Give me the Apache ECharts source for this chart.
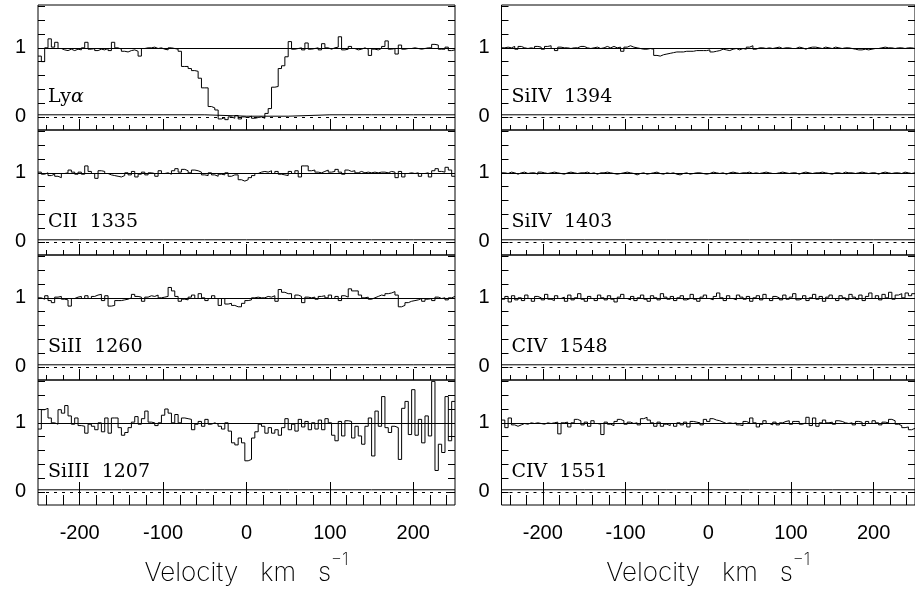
<!DOCTYPE html>
<html><head><meta charset="utf-8">
<script src="https://cdn.jsdelivr.net/npm/echarts@6/dist/echarts.min.js"></script>
<style>html,body{margin:0;padding:0;background:#fff}#c{width:915px;height:594px}</style>
</head><body><div id="c"></div>
<script>
// ---------- data ----------
const binWidth = 4;          // km/s per spectral bin
const vStart = -250;         // left edge of first bin
const xTickLabels = [-200, -100, 0, 100, 200];
const yTickLabels = [0, 1];
const yTickValues = [0, 0.2, 0.4, 0.6, 0.8, 1, 1.2, 1.4, 1.6];
const panelLabels = ['Ly{g|α}', 'CII  1335', 'SiII  1260', 'SiIII  1207',
                     'SiIV  1394', 'SiIV  1403', 'CIV  1548', 'CIV  1551'];
const axisTitle = '{a|Velocity   km   s}{b|−1}';

const fluxLya = [
 0.88,0.80,1.00,1.13,1.01,1.08,0.99,0.97,0.96,0.98,0.96,0.98,0.97,1.00,1.08,0.98,0.99,0.96,0.98,0.97,0.99,0.96,1.08,1.00,0.98,
 0.95,0.94,0.96,0.97,0.95,0.88,0.99,1.00,1.00,1.01,0.99,1.00,0.98,0.97,1.00,0.99,0.98,0.95,0.73,0.73,0.70,0.67,0.66,0.56,0.42,
 0.42,0.15,0.13,0.10,-0.03,-0.01,-0.04,0.00,-0.02,0.02,-0.03,0.00,-0.01,0.01,-0.02,-0.01,0.00,-0.02,0.05,0.12,0.43,0.44,0.70,0.74,0.87,
 1.09,0.98,0.99,1.00,0.97,1.07,0.98,0.99,1.00,0.97,1.06,1.00,0.98,1.00,1.01,1.16,0.97,0.98,1.02,0.99,0.97,0.98,1.00,0.98,0.89,
 0.98,0.97,0.99,1.02,1.10,0.98,0.99,0.91,1.04,0.98,0.99,0.99,1.00,0.99,0.98,0.99,1.00,1.00,1.05,1.04,0.98,0.98,1.01,0.96,0.97];
const fluxCII = [
 1.01,0.98,1.00,0.96,0.98,0.95,0.93,0.99,1.00,1.04,1.01,0.98,1.01,0.98,1.10,1.02,0.99,0.92,1.03,1.02,0.99,0.97,0.96,0.95,0.94,
 0.96,1.00,0.97,1.02,0.94,0.98,1.01,0.97,1.00,0.99,0.95,1.03,0.99,1.00,0.98,1.03,1.06,1.01,1.05,1.03,1.00,1.04,1.03,1.01,0.97,
 0.96,1.00,0.97,0.95,0.98,0.97,1.00,0.95,0.97,0.97,0.90,0.88,0.90,0.93,0.96,0.99,1.01,1.02,1.01,1.03,0.99,1.02,0.98,0.97,0.96,
 1.02,0.99,1.03,0.94,1.10,1.10,1.03,1.04,1.01,1.00,1.02,1.04,1.01,1.02,1.05,1.01,0.98,1.04,1.02,1.03,1.00,1.02,1.00,1.01,1.00,
 1.01,1.00,1.01,1.01,1.00,1.02,1.01,0.93,1.02,0.94,0.99,1.00,0.99,1.00,0.95,0.99,1.00,0.94,1.03,1.06,1.02,1.01,1.08,1.04,0.95];
const fluxSiII = [
 1.00,0.98,1.03,0.96,0.93,1.01,1.02,0.98,0.97,0.88,0.99,1.01,1.02,0.99,1.03,0.99,1.02,1.04,1.05,0.96,1.03,0.88,0.89,0.96,0.96,
 0.97,0.98,1.00,1.05,1.02,1.01,0.95,1.01,1.03,1.02,1.04,1.00,1.01,1.02,1.15,1.10,1.02,0.95,0.98,0.97,1.01,1.04,0.99,1.06,1.00,
 0.96,0.99,1.03,0.99,0.89,0.99,0.91,0.92,0.89,0.87,0.87,0.92,0.96,0.97,1.00,1.01,1.00,1.00,1.02,1.01,1.03,0.95,1.12,1.08,1.06,
 1.06,0.99,1.04,1.02,0.93,1.01,1.00,1.01,0.98,1.02,1.03,1.00,1.04,0.99,1.02,0.96,1.03,1.01,1.13,1.10,1.10,1.04,1.00,1.01,0.98,
 1.00,1.02,1.04,1.03,1.06,1.07,1.09,1.04,0.87,0.89,0.93,0.95,0.96,0.97,0.99,0.95,0.98,0.99,0.96,1.01,0.99,1.00,0.97,1.00,1.02];
const fluxSiIII = [
 0.91,1.19,1.21,1.07,1.00,0.98,1.19,1.14,1.25,1.10,0.98,1.07,0.96,0.95,0.85,0.98,0.95,0.90,1.00,0.87,1.07,0.85,1.07,1.07,0.93,
 0.82,0.86,0.93,1.01,1.09,0.98,1.06,1.17,1.01,1.00,0.96,1.00,1.11,1.20,1.14,1.00,1.12,1.00,1.07,1.06,1.05,0.90,0.98,1.02,0.95,
 1.05,0.98,1.00,0.98,0.95,0.91,1.00,0.88,0.71,0.68,0.78,0.71,0.45,0.47,0.78,0.87,0.98,0.95,0.85,0.93,0.85,0.90,0.82,0.93,1.06,
 0.90,0.98,0.88,1.05,0.94,1.02,0.90,1.00,0.91,1.04,0.90,1.06,1.00,0.82,0.74,1.02,0.81,1.03,1.02,0.78,0.95,0.81,0.69,0.95,1.07,
 0.52,1.17,0.95,1.38,0.93,0.86,0.95,0.93,0.47,1.21,1.31,0.83,1.48,0.82,1.05,0.71,1.10,0.81,1.60,0.31,0.69,0.57,1.38,0.74,1.31];
const fluxSiIV1394 = [
 1.00,1.01,1.00,1.02,0.98,1.02,1.00,0.99,1.00,0.99,1.02,1.01,0.98,1.02,1.03,0.99,0.96,1.01,1.00,1.00,0.99,1.00,1.00,1.02,1.02,
 1.00,0.99,1.00,1.01,0.99,1.00,1.02,1.00,1.02,1.00,1.01,0.95,1.01,1.03,1.01,1.00,0.99,0.98,0.98,0.99,0.98,0.89,0.88,0.90,0.91,
 0.92,0.93,0.94,0.94,0.94,0.95,0.95,0.95,0.96,0.96,0.96,0.96,0.97,0.94,0.95,0.96,0.98,0.97,0.96,0.98,0.99,0.97,0.99,0.98,1.01,
 1.03,0.98,1.00,1.00,0.99,1.00,0.99,1.00,1.01,0.99,1.00,1.00,0.99,0.99,1.01,1.00,0.98,1.00,1.01,1.01,1.00,0.99,1.01,1.00,0.99,
 1.01,1.00,0.99,1.00,1.00,0.99,0.98,0.97,0.97,0.98,0.97,0.98,0.99,0.99,1.00,1.01,1.00,1.00,0.99,1.00,1.00,0.99,1.00,1.00,0.99];
const fluxSiIV1403 = [
 1.00,0.99,1.01,1.00,0.98,1.00,1.01,0.99,1.00,1.00,0.98,1.01,1.00,0.99,1.00,1.01,1.00,0.99,0.98,1.00,1.01,1.00,0.99,1.00,1.00,
 1.01,0.99,1.00,0.98,1.00,1.00,1.01,1.00,0.99,0.98,0.99,1.00,1.01,1.00,0.99,0.97,0.99,1.00,0.98,0.99,1.00,1.01,0.99,0.98,1.00,
 0.99,1.00,0.98,0.97,0.99,1.00,0.98,0.99,1.00,1.00,0.99,0.98,0.99,1.01,1.00,0.99,1.00,0.98,1.00,1.01,1.00,0.99,1.00,1.00,1.01,
 0.99,1.00,0.99,1.00,1.01,1.00,0.99,0.99,1.00,1.01,1.00,0.99,1.00,1.00,0.98,1.00,1.01,1.00,0.99,1.00,1.00,1.01,1.00,0.99,0.98,
 1.00,1.00,0.99,1.01,1.00,1.00,0.99,1.00,1.01,1.00,0.99,1.00,1.00,0.98,1.00,1.01,1.00,0.99,1.00,1.00,0.99,1.01,1.00,0.99,1.00];
const fluxCIV1548 = [
 0.98,1.02,0.94,1.03,0.97,1.00,0.96,1.04,0.99,0.95,1.02,1.00,0.97,1.05,0.98,0.96,1.03,0.99,1.01,0.95,1.04,0.97,1.00,1.06,0.98,
 0.95,1.02,0.99,0.96,1.04,1.00,0.97,1.03,0.98,0.94,1.01,1.05,0.99,0.97,1.02,0.96,1.00,1.04,0.98,0.95,1.03,1.00,0.97,1.06,1.01,
 0.98,1.02,0.96,1.00,1.03,0.97,0.99,1.05,0.98,0.95,1.01,1.04,0.99,0.97,1.02,1.07,1.00,0.96,1.03,0.99,0.97,1.04,1.01,0.98,1.02,
 0.95,1.00,1.03,0.97,1.05,0.99,0.96,1.02,1.00,0.97,1.04,0.98,1.01,1.06,0.97,0.99,1.03,0.96,1.00,1.05,0.98,1.02,0.95,1.01,1.04,
 0.99,0.96,1.03,1.00,0.97,1.05,1.01,0.98,1.04,0.96,1.02,1.07,0.99,1.03,0.97,1.05,1.00,1.08,0.98,1.04,1.06,1.00,1.07,1.03,1.06];
const fluxCIV1551 = [
 1.04,0.93,1.07,0.97,0.95,0.97,0.99,0.98,1.00,0.99,1.00,0.99,0.98,1.00,0.99,1.00,1.01,0.84,1.00,1.01,0.94,1.00,1.05,1.03,0.97,
 1.01,0.95,1.03,0.99,0.98,0.83,1.01,0.98,0.96,1.02,1.05,1.03,0.98,1.01,0.99,1.00,0.97,1.06,1.08,1.04,1.00,0.95,1.01,0.95,0.98,
 0.96,0.99,0.95,1.00,0.97,1.01,0.94,1.02,1.01,1.00,0.97,1.05,1.02,1.06,1.04,1.03,1.01,0.99,1.00,0.99,1.00,0.97,0.96,1.02,1.00,
 1.07,1.00,0.94,0.98,1.03,0.99,0.97,1.01,0.97,1.00,1.02,1.03,0.98,1.02,1.02,0.98,1.00,1.08,0.96,1.07,0.95,1.00,1.04,1.00,1.01,
 0.98,1.03,1.02,1.00,0.99,1.00,0.97,1.02,1.01,0.96,1.02,0.99,1.03,1.00,0.97,1.01,1.00,1.05,1.03,0.98,0.96,0.93,0.94,0.90,0.92];

// error spectra, sampled every 50 km/s
const errV = [-250,-200,-150,-100,-50,0,50,100,150,200,250];
const errLya      = [0.03,0.03,0.03,0.03,0.03,0.01,0.01,0.03,0.03,0.03,0.03];
const errCII      = [0.03,0.03,0.03,0.03,0.03,0.03,0.03,0.03,0.03,0.03,0.03];
const errSiII     = [0.03,0.03,0.03,0.03,0.03,0.03,0.03,0.03,0.03,0.03,0.03];
const errSiIII    = [0.03,0.03,0.03,0.03,0.03,0.03,0.03,0.03,0.03,0.03,0.03];
const errSiIV1394 = [0.03,0.03,0.03,0.03,0.03,0.03,0.03,0.03,0.03,0.03,0.03];
const errSiIV1403 = [0.03,0.03,0.03,0.03,0.03,0.03,0.03,0.03,0.03,0.03,0.03];
const errCIV1548  = [0.03,0.03,0.03,0.03,0.03,0.03,0.03,0.03,0.03,0.03,0.03];
const errCIV1551  = [0.03,0.03,0.03,0.03,0.03,0.03,0.03,0.03,0.03,0.03,0.03];

const fluxes = [fluxLya, fluxCII, fluxSiII, fluxSiIII, fluxSiIV1394, fluxSiIV1403, fluxCIV1548, fluxCIV1551];
const errs = [errLya, errCII, errSiII, errSiIII, errSiIV1394, errSiIV1403, errCIV1548, errCIV1551];

// ---------- layout ----------
const colLeft = [38, 501.5], colWidth = 417;
const rowTop = [5, 130, 255, 380], rowHeight = 125;
const yMin = -0.19, yMax = 1.62;
const minorX = [];
for (let v = -240; v <= 240; v += 20) minorX.push(v);
const thinFont = "Inter, 'DejaVu Sans'";

const grids = [], xAxes = [], yAxes = [], series = [], graphics = [];
for (let k = 0; k < 8; k++) {
  const c = Math.floor(k / 4), r = k % 4;
  const bottom = (r === 3);
  grids.push({left: colLeft[c], top: rowTop[r], width: colWidth, height: rowHeight,
    show: true, borderColor: '#000', borderWidth: 1, backgroundColor: 'transparent'});
  // major x ticks (+ labels on bottom row)
  xAxes.push({type: 'value', gridIndex: k, min: vStart, max: -vStart, position: 'bottom',
    axisLine: {show: false, onZero: false}, splitLine: {show: false},
    axisTick: {show: true, inside: true, length: bottom ? 23 : 11, customValues: xTickLabels,
      lineStyle: {color: '#000', width: 1}},
    axisLabel: {show: bottom, customValues: xTickLabels, margin: 18, color: '#000',
      fontSize: 20, fontFamily: 'Liberation Sans'},
    name: bottom ? axisTitle : '', nameLocation: 'middle', nameGap: 46,
    nameTextStyle: {color: '#000', rich: {
      a: {fontFamily: thinFont, fontWeight: 200, fontSize: 26, lineHeight: 25, verticalAlign: 'bottom', color: '#000'},
      b: {fontFamily: thinFont, fontWeight: 200, fontSize: 17, lineHeight: 35, verticalAlign: 'top', color: '#000'}
    }}
  });
  // minor x ticks
  xAxes.push({type: 'value', gridIndex: k, min: vStart, max: -vStart, position: 'bottom',
    axisLine: {show: false, onZero: false}, splitLine: {show: false}, axisLabel: {show: false},
    axisTick: {show: true, inside: true, length: bottom ? 10 : 5, customValues: minorX,
      lineStyle: {color: '#000', width: 1}}});
  // left y axis with labels
  yAxes.push({type: 'value', gridIndex: k, min: yMin, max: yMax, position: 'left',
    axisLine: {show: false, onZero: false}, splitLine: {show: false},
    axisTick: {show: true, inside: true, length: 7, customValues: yTickValues,
      lineStyle: {color: '#000', width: 1}},
    axisLabel: {show: true, customValues: yTickLabels, margin: 12, color: '#000',
      fontSize: 20, fontFamily: 'Liberation Sans'}});
  // right y axis ticks
  yAxes.push({type: 'value', gridIndex: k, min: yMin, max: yMax, position: 'right',
    axisLine: {show: false, onZero: false}, splitLine: {show: false}, axisLabel: {show: false},
    axisTick: {show: true, inside: true, length: 7, customValues: yTickValues,
      lineStyle: {color: '#000', width: 1}}});

  // histogram spectrum (bin left edges, step drawn to the next edge)
  const fl = fluxes[k];
  const pts = fl.map((f, i) => [vStart + i * binWidth, f]);
  pts.push([vStart + fl.length * binWidth, fl[fl.length - 1]]);
  series.push({type: 'line', xAxisIndex: 2 * k, yAxisIndex: 2 * k, data: pts, step: 'end',
    symbol: 'none', clip: true, animation: false, silent: true,
    lineStyle: {color: '#000', width: 1},
    markLine: {silent: true, symbol: 'none', animation: false, label: {show: false},
      data: [
        {yAxis: 1, lineStyle: {color: '#000', width: 1, type: 'solid'}},
        {yAxis: 0, lineStyle: {color: '#000', width: 1, type: [3, 5]}}
      ]}
  });
  // error spectrum
  series.push({type: 'line', xAxisIndex: 2 * k, yAxisIndex: 2 * k,
    data: errV.map((v, i) => [v, errs[k][i]]), symbol: 'none', animation: false, silent: true,
    lineStyle: {color: '#000', width: 1}});

  graphics.push({type: 'text', left: colLeft[c] + 10, top: rowTop[r] + 83, silent: true,
    style: {text: panelLabels[k], fill: '#000', font: '19px "DejaVu Serif"',
      rich: {g: {fontFamily: 'DejaVu Serif', fontStyle: 'italic', fontSize: 19, fill: '#000'}}}});
}

const chart = echarts.init(document.getElementById('c'), null, {renderer: 'canvas'});
chart.setOption({
  animation: false, backgroundColor: '#fff',
  grid: grids, xAxis: xAxes, yAxis: yAxes, series: series, graphic: graphics
});
</script>
</body></html>
